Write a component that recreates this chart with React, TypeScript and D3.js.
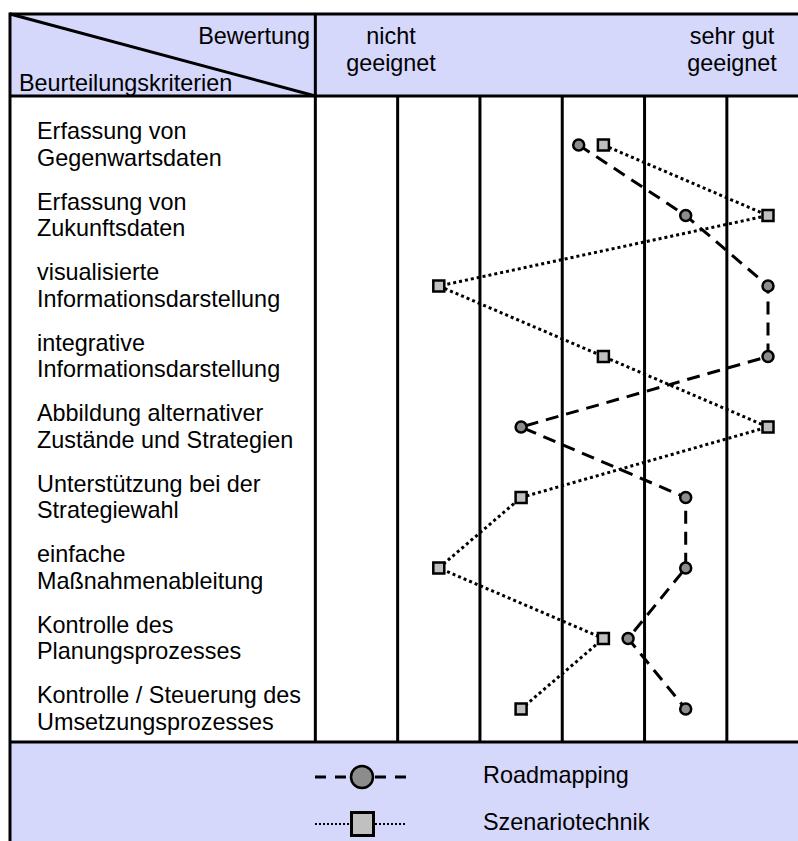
import React from "react";
import * as d3 from "d3";

const criteria: string[][] = [
  ["Erfassung von", "Gegenwartsdaten"],
  ["Erfassung von", "Zukunftsdaten"],
  ["visualisierte", "Informationsdarstellung"],
  ["integrative", "Informationsdarstellung"],
  ["Abbildung alternativer", "Zustände und Strategien"],
  ["Unterstützung bei der", "Strategiewahl"],
  ["einfache", "Maßnahmenableitung"],
  ["Kontrolle des", "Planungsprozesses"],
  ["Kontrolle / Steuerung des", "Umsetzungsprozesses"],
];

const roadmapping: number[] = [3.7, 5, 6, 6, 3, 5, 5, 4.3, 5];
const szenariotechnik: number[] = [4, 6, 2, 4, 6, 3, 2, 4, 3];

const scaleTicks: number[] = [1, 2, 3, 4, 5, 6];
const headerLeft = "nicht";
const headerLeft2 = "geeignet";
const headerRight = "sehr gut";
const headerRight2 = "geeignet";

const FONT = "'Liberation Sans', Arial, sans-serif";
const LAV = "#d5d7fb";

export default function App() {
  const W = 798;
  const H = 841;
  const left = 10;
  const top = 14;
  const headerBottom = 96;
  const bodyBottom = 742;

  const x = d3.scaleLinear().domain([1, 6]).range([356.5, 768]);
  const idx = criteria.map((_, i) => i);
  const y = d3.scalePoint<number>().domain(idx).range([145, 709]);

  const labelRight = x(0.5);
  const rightEdge = x(6.5);
  const gridXs = scaleTicks.slice(0, -1).map((t) => x(t + 0.5));

  const line = d3
    .line<number>()
    .x((v) => x(v))
    .y((_, i) => y(i) as number);

  const fs = 23.4;

  return (
    <svg
      width={W}
      height={H}
      style={{ position: "absolute", left: 0, top: 0, fontFamily: FONT }}
    >
      <rect x={0} y={0} width={W} height={H} fill="#fff" />
      <rect x={left} y={top} width={rightEdge - left} height={headerBottom - top} fill={LAV} />
      <rect x={left} y={bodyBottom} width={rightEdge - left} height={H - bodyBottom} fill={LAV} />

      {gridXs.map((gx, i) => (
        <line key={i} x1={gx} x2={gx} y1={headerBottom} y2={bodyBottom} stroke="#000" strokeWidth={3} />
      ))}

      <line x1={left} x2={rightEdge} y1={top} y2={top} stroke="#000" strokeWidth={3} />
      <line x1={left} x2={left} y1={top - 1.5} y2={H} stroke="#000" strokeWidth={3} />
      <line x1={left} x2={rightEdge} y1={headerBottom} y2={headerBottom} stroke="#000" strokeWidth={3} />
      <line x1={left} x2={rightEdge} y1={bodyBottom} y2={bodyBottom} stroke="#000" strokeWidth={3} />
      <line x1={labelRight} x2={labelRight} y1={top} y2={bodyBottom} stroke="#000" strokeWidth={3} />
      <line x1={left} y1={top} x2={labelRight} y2={headerBottom} stroke="#000" strokeWidth={3} />

      <text x={310} y={44} fontSize={fs} textAnchor="end">Bewertung</text>
      <text x={19} y={91} fontSize={fs}>Beurteilungskriterien</text>
      <text x={391} y={44} fontSize={fs} textAnchor="middle">{headerLeft}</text>
      <text x={391} y={71} fontSize={fs} textAnchor="middle">{headerLeft2}</text>
      <text x={732} y={44} fontSize={fs} textAnchor="middle">{headerRight}</text>
      <text x={732} y={71} fontSize={fs} textAnchor="middle">{headerRight2}</text>

      {criteria.map((c, i) => {
        const cy = y(i) as number;
        return (
          <g key={i}>
            <text x={37} y={cy - 6} fontSize={fs}>{c[0]}</text>
            <text x={37} y={cy + 20.5} fontSize={fs}>{c[1]}</text>
          </g>
        );
      })}

      <path d={line(szenariotechnik) || ""} fill="none" stroke="#000" strokeWidth={3} strokeDasharray="3 3" />
      <path d={line(roadmapping) || ""} fill="none" stroke="#000" strokeWidth={3} strokeDasharray="13 8" />

      {roadmapping.map((v, i) => (
        <circle key={"r" + i} cx={x(v)} cy={y(i) as number} r={5.5} fill="#8c8c8c" stroke="#000" strokeWidth={2.5} />
      ))}
      {szenariotechnik.map((v, i) => (
        <rect
          key={"s" + i}
          x={x(v) - 5.5}
          y={(y(i) as number) - 5.5}
          width={11}
          height={11}
          fill="#c0c0c0"
          stroke="#000"
          strokeWidth={2.5}
        />
      ))}

      <line x1={315} x2={408} y1={777} y2={777} stroke="#000" strokeWidth={3} strokeDasharray="11 9" />
      <circle cx={362} cy={777} r={11} fill="#8c8c8c" stroke="#000" strokeWidth={2.5} />
      <text x={483} y={783} fontSize={fs}>Roadmapping</text>

      <line x1={315} x2={407} y1={824} y2={824} stroke="#000" strokeWidth={2} strokeDasharray="2 2" />
      <rect x={351.5} y={812.5} width={22} height={23} fill="#c0c0c0" stroke="#000" strokeWidth={3} />
      <text x={483} y={830} fontSize={fs}>Szenariotechnik</text>
    </svg>
  );
}
